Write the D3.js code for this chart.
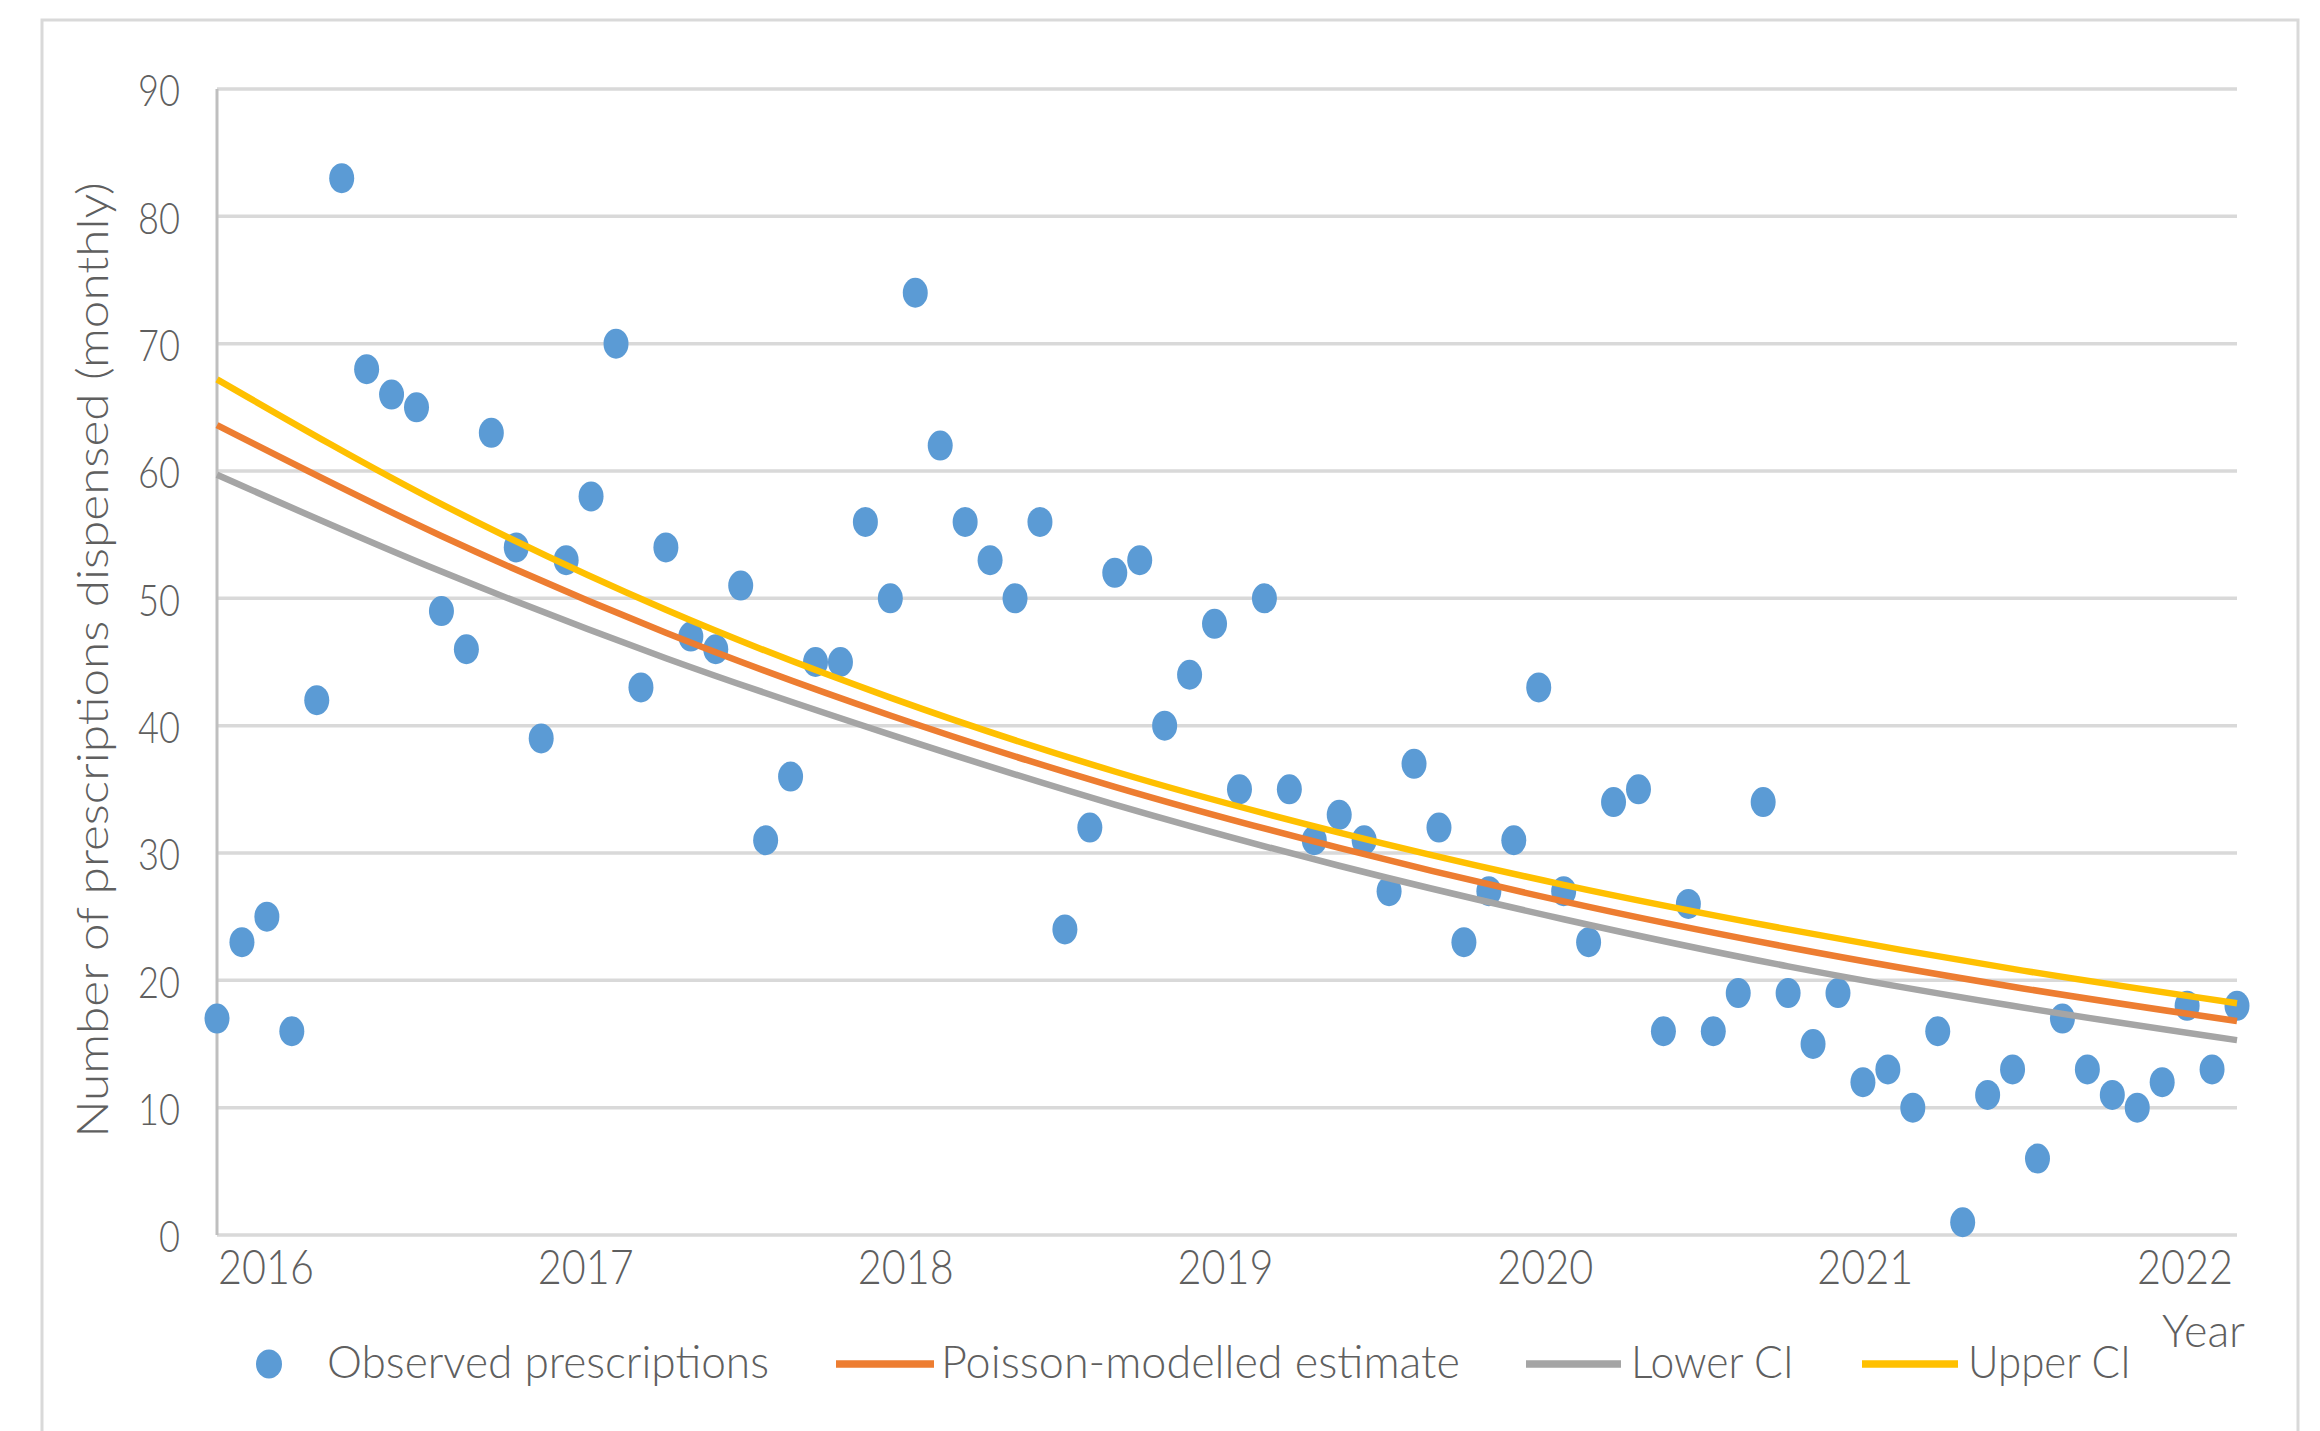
<!DOCTYPE html>
<html>
<head>
<meta charset="utf-8">
<script src="https://cdn.jsdelivr.net/npm/d3@7"></script>
<style>
  body { margin: 0; background: #ffffff; }
  svg { display: block; }
  text { font-family: Lato, "Open Sans", sans-serif; fill: #5f5f5f; font-weight: 300; }
</style>
</head>
<body>
<svg id="chart" width="2320" height="1431"></svg>
<script>
// ---------------- data ----------------
const observed = [
  17,23,25,16,42,83,68,66,65,49,
  46,63,54,39,53,58,70,43,54,47,
  46,51,31,36,45,45,56,50,74,62,
  56,53,50,56,24,32,52,53,40,44,
  48,35,50,35,31,33,31,27,37,32,
  23,27,31,43,27,23,34,35,16,26,
  16,19,34,19,15,19,12,13,10,16,
  1,11,13,6,17,13,11,10,12,18,
  13,18
];
// model curves read at selected observation indices
const modelIndex = [0, 9, 18, 27, 36, 45, 54, 63, 72, 81];
const estimate   = [63.6, 54.9, 47.3, 40.8, 35.2, 30.4, 26.2, 22.6, 19.5, 16.8];
const lowerCI    = [59.7, 52.1, 45.3, 39.3, 33.8, 29.0, 24.8, 21.1, 18.0, 15.3];
const upperCI    = [67.2, 57.4, 49.1, 42.2, 36.4, 31.6, 27.5, 24.0, 20.9, 18.2];
const yearTicks  = [2016, 2017, 2018, 2019, 2020, 2021, 2022];
const valueTicks = [0, 10, 20, 30, 40, 50, 60, 70, 80, 90];
const seriesNames = ["Observed prescriptions", "Poisson-modelled estimate", "Lower CI", "Upper CI"];
const yTitle = "Number of prescriptions dispensed (monthly)";
const xTitle = "Year";

// ---------------- layout ----------------
const L = 217, R = 2237, T = 89, B = 1235;
const colors = { obs: "#5B9BD5", est: "#ED7D31", low: "#A5A5A5", up: "#FFC000" };

const svg = d3.select("#chart");

// outer chart border
svg.append("rect")
  .attr("x", 42).attr("y", 20).attr("width", 2256).attr("height", 1500)
  .attr("fill", "#ffffff").attr("stroke", "#d9d9d9").attr("stroke-width", 3);

const x = d3.scaleLinear().domain([0, observed.length - 1]).range([L, R]);
const xYear = d3.scaleLinear().domain([2016, 2022]).range([265.5, 2184.5]);
const y = d3.scaleLinear().domain([0, 90]).range([B, T]);

// gridlines
svg.append("g").selectAll("line").data(valueTicks).join("line")
  .attr("x1", L).attr("x2", R)
  .attr("y1", d => y(d)).attr("y2", d => y(d))
  .attr("stroke", "#d9d9d9").attr("stroke-width", 3.5);

// vertical axis line
svg.append("line")
  .attr("x1", L).attr("x2", L).attr("y1", y(90)).attr("y2", y(0))
  .attr("stroke", "#bfbfbf").attr("stroke-width", 3);

// y axis labels
const yAxis = svg.append("g").attr("transform", `translate(${L},0)`)
  .call(d3.axisLeft(y).tickValues(valueTicks).tickSize(0).tickPadding(37));
yAxis.select(".domain").remove();
yAxis.selectAll("text")
  .attr("font-size", 44).attr("font-family", null).attr("fill", null)
  .attr("text-anchor", "end").attr("dominant-baseline", "central");
yAxis.selectAll("text").each(function (d) {
  const n = this.getComputedTextLength();
  const s = (String(d).length * 21) / n;
  d3.select(this).attr("x", 0).attr("dy", null)
    .attr("transform", `translate(-37,0) scale(${s},1)`);
});

// x axis labels
const xAxis = svg.append("g").attr("transform", `translate(0,${B})`)
  .call(d3.axisBottom(xYear).tickValues(yearTicks).tickFormat(d3.format("d")).tickSize(0));
xAxis.select(".domain").remove();
xAxis.selectAll("text")
  .attr("font-size", 48).attr("font-family", null).attr("fill", null)
  .attr("text-anchor", "middle");
xAxis.selectAll("text").each(function () {
  const n = this.getComputedTextLength();
  const s = 96 / n;
  d3.select(this).attr("y", 0).attr("dy", null)
    .attr("transform", `translate(0,49) scale(${s},1)`);
});

// observed dots
svg.append("g").selectAll("ellipse").data(observed).join("ellipse")
  .attr("cx", (d, i) => x(i)).attr("cy", d => y(d))
  .attr("rx", 12.5).attr("ry", 15)
  .attr("fill", colors.obs);

// model lines
const line = d3.line()
  .x((d, i) => x(modelIndex[i]))
  .y(d => y(d))
  .curve(d3.curveMonotoneX);
[[lowerCI, colors.low], [estimate, colors.est], [upperCI, colors.up]].forEach(([arr, c]) => {
  svg.append("path").datum(arr)
    .attr("d", line).attr("fill", "none")
    .attr("stroke", c).attr("stroke-width", 6.5).attr("stroke-linejoin", "round");
});

// y title
const yt = svg.append("text").text(yTitle)
  .attr("font-size", 46).attr("text-anchor", "middle");
{
  const n = yt.node().getComputedTextLength();
  yt.attr("transform", `translate(108,660) rotate(-90) scale(${956 / n},0.95)`);
}

// x title
const xt = svg.append("text").text(xTitle)
  .attr("font-size", 46).attr("text-anchor", "start");
{
  const n = xt.node().getComputedTextLength();
  xt.attr("transform", `translate(2162,1347) scale(${83 / n},1)`);
}

// legend
const legY = 1364, legBase = 1378;
const leg = svg.append("g");
leg.append("ellipse").attr("cx", 269).attr("cy", legY).attr("rx", 13).attr("ry", 14.5).attr("fill", colors.obs);
const legLines = [
  { x1: 836, x2: 934, c: colors.est },
  { x1: 1526, x2: 1621, c: colors.low },
  { x1: 1862, x2: 1958, c: colors.up }
];
leg.selectAll("line").data(legLines).join("line")
  .attr("x1", d => d.x1).attr("x2", d => d.x2)
  .attr("y1", legY).attr("y2", legY)
  .attr("stroke", d => d.c).attr("stroke-width", 7.5);
const legText = [
  { t: seriesNames[0], x: 327, w: 442 },
  { t: seriesNames[1], x: 941, w: 519 },
  { t: seriesNames[2], x: 1631, w: 163 },
  { t: seriesNames[3], x: 1968, w: 163 }
];
leg.selectAll("text").data(legText).join("text")
  .text(d => d.t).attr("font-size", 46)
  .each(function (d) {
    const n = this.getComputedTextLength();
    d3.select(this).attr("transform", `translate(${d.x},${legBase}) scale(${d.w / n},1)`);
  });
</script>
</body>
</html>
